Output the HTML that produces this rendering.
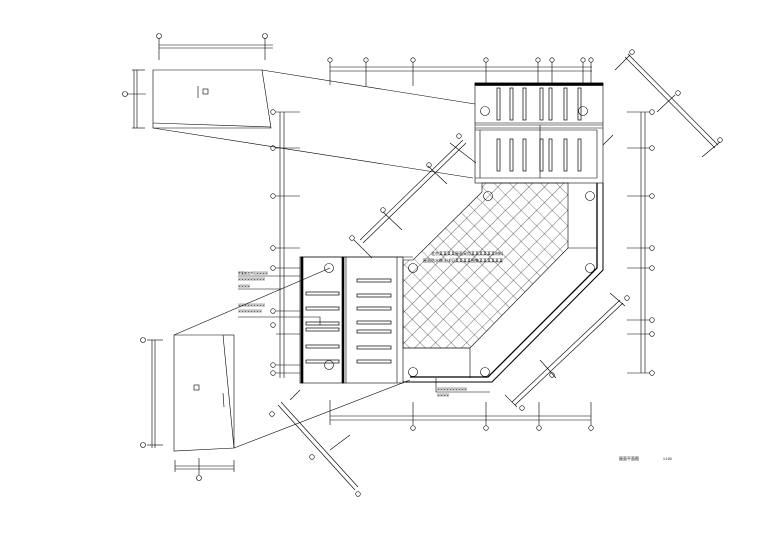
<!DOCTYPE html>
<html><head><meta charset="utf-8"><style>
html,body{margin:0;padding:0;background:#fff;}
svg{display:block;}
text{font-family:"Liberation Sans","Noto Sans CJK SC",sans-serif;fill:#000;}
</style></head><body>
<svg width="780" height="554" viewBox="0 0 780 554" xmlns="http://www.w3.org/2000/svg">
<defs>
<pattern id="h" width="11" height="11" patternUnits="userSpaceOnUse" patternTransform="rotate(45)">
<path d="M0 0H11M0 0V11" stroke="#000" stroke-width="0.6" fill="none"/>
</pattern>
</defs>
<g stroke="#000" stroke-width="0.6" fill="none">
<!-- top detail box -->
<path d="M153 70H262L271 128H153Z"/>
<line x1="153" y1="123" x2="271" y2="127"/>
<line x1="262" y1="70" x2="475" y2="104"/>
<line x1="153" y1="128" x2="473" y2="178"/>
<rect x="203" y="89" width="5" height="5"/>
<line x1="198" y1="86" x2="198" y2="98"/>
<line x1="159" y1="45" x2="273" y2="45"/><line x1="159" y1="48" x2="273" y2="48"/>
<line x1="159" y1="38" x2="159" y2="60"/><line x1="265" y1="38" x2="265" y2="60"/>
<circle cx="159" cy="36" r="2.5"/><circle cx="265" cy="36" r="2.5"/>
<line x1="134" y1="70" x2="134" y2="128"/><line x1="137" y1="70" x2="137" y2="128"/>
<line x1="132" y1="70" x2="145" y2="70"/><line x1="132" y1="128" x2="145" y2="128"/>
<line x1="127" y1="94" x2="146" y2="94"/><circle cx="125" cy="94" r="2.5"/>
<!-- bottom detail box -->
<path d="M174 335H223L234 448L174 451Z"/>
<line x1="223" y1="335" x2="234" y2="335"/><line x1="234" y1="335" x2="234" y2="448"/>
<line x1="174" y1="335" x2="330" y2="268"/>
<line x1="234" y1="448" x2="410" y2="380"/>
<rect x="194" y="385" width="5" height="5"/>
<line x1="223" y1="393" x2="224" y2="407"/>
<line x1="152" y1="340" x2="152" y2="448"/><line x1="155" y1="340" x2="155" y2="448"/>
<line x1="147" y1="340" x2="163" y2="340"/><line x1="147" y1="445" x2="163" y2="445"/>
<circle cx="143" cy="340" r="2.5"/><circle cx="143" cy="445" r="2.5"/>
<line x1="175" y1="466" x2="234" y2="466"/><line x1="175" y1="469" x2="234" y2="469"/>
<line x1="175" y1="460" x2="175" y2="472"/><line x1="234" y1="460" x2="234" y2="472"/><line x1="199" y1="458" x2="199" y2="475"/>
<circle cx="199" cy="478" r="2.5"/>
<!-- left text leaders -->
<path d="M238 276H300M238 289H282M238 317H320V325"/>
<!-- top dimension -->
<line x1="330" y1="67" x2="592" y2="67"/><line x1="330" y1="71" x2="592" y2="71"/>
<g>
<line x1="330" y1="62" x2="330" y2="85"/><line x1="366" y1="62" x2="366" y2="86"/><line x1="413" y1="62" x2="413" y2="86"/>
<line x1="486" y1="62" x2="486" y2="84"/><line x1="538" y1="62" x2="538" y2="84"/><line x1="552" y1="62" x2="552" y2="84"/>
<line x1="583" y1="62" x2="583" y2="84"/><line x1="591" y1="62" x2="591" y2="84"/>
<circle cx="330" cy="60" r="2.2"/><circle cx="366" cy="60" r="2.2"/><circle cx="413" cy="60" r="2.2"/><circle cx="486" cy="60" r="2.2"/>
<circle cx="538" cy="60" r="2.2"/><circle cx="552" cy="60" r="2.2"/><circle cx="583" cy="60" r="2.2"/><circle cx="591" cy="60" r="2.2"/>
</g>
<!-- left axis -->
<line x1="280" y1="112" x2="280" y2="378"/><line x1="284" y1="112" x2="284" y2="378"/>
<path d="M276 112H300M276 148H300M276 196H300M276 248H300M276 268H300M276 311H300M276 334H300M276 365H300M276 373H300"/>
<circle cx="273" cy="112" r="2.3"/><circle cx="273" cy="148" r="2.3"/><circle cx="273" cy="196" r="2.3"/><circle cx="273" cy="248" r="2.3"/><circle cx="273" cy="268" r="2.3"/><circle cx="273" cy="311" r="2.3"/><circle cx="273" cy="325" r="2.3"/><circle cx="273" cy="365" r="2.3"/><circle cx="273" cy="373" r="2.3"/>
<!-- right axis -->
<line x1="641" y1="112" x2="641" y2="373"/><line x1="645" y1="112" x2="645" y2="373"/>
<path d="M627 112H650M627 148H650M627 196H650M627 248H650M627 268H650M627 320H650M627 334H650M627 373H650"/>
<circle cx="652" cy="112" r="2.3"/><circle cx="652" cy="148" r="2.3"/><circle cx="652" cy="196" r="2.3"/><circle cx="652" cy="248" r="2.3"/><circle cx="652" cy="268" r="2.3"/><circle cx="652" cy="320" r="2.3"/><circle cx="652" cy="334" r="2.3"/><circle cx="652" cy="373" r="2.3"/>
<!-- bottom dimension -->
<line x1="330" y1="416" x2="591" y2="416"/><line x1="330" y1="420" x2="591" y2="420"/>
<path d="M330 400V425M413 402V425M486 402V425M539 402V425M591 402V425"/>
<circle cx="413" cy="428" r="2.3"/><circle cx="486" cy="428" r="2.3"/><circle cx="539" cy="428" r="2.3"/><circle cx="591" cy="428" r="2.3"/>
<!-- diagonal dims -->
<line x1="625" y1="57" x2="715" y2="148"/><line x1="628" y1="54" x2="718" y2="145"/>
<line x1="615" y1="70" x2="630" y2="55"/><line x1="702" y1="157" x2="720" y2="142"/><line x1="657" y1="112" x2="675" y2="95"/>
<circle cx="632" cy="52" r="2.3"/><circle cx="678" cy="93" r="2.3"/><circle cx="720" cy="140" r="2.3"/>
<line x1="360" y1="240" x2="463" y2="140"/><line x1="363" y1="243" x2="466" y2="143"/>
<path d="M354 240L372 258M383 212L402 230M428 166L447 184M450 143L476 163"/>
<circle cx="352" cy="238" r="2.3"/><circle cx="383" cy="210" r="2.3"/><circle cx="429" cy="165" r="2.3"/><circle cx="459" cy="136" r="2.3"/>
<line x1="512" y1="402" x2="620" y2="300"/><line x1="515" y1="405" x2="623" y2="303"/>
<path d="M505 395L517 407M610 293L625 306M540 360L556 378"/>
<circle cx="522" cy="408" r="2.3"/><circle cx="552" cy="375" r="2.3"/><circle cx="627" cy="298" r="2.3"/>
<line x1="278" y1="405" x2="355" y2="490"/><line x1="281" y1="402" x2="358" y2="487"/>
<path d="M290 400L300 390M330 450L350 435"/>
<circle cx="272" cy="414" r="2.3"/><circle cx="312" cy="457" r="2.3"/><circle cx="358" cy="494" r="2.3"/>
<!-- top building block -->
<rect x="475" y="83" width="128" height="100"/>
<rect x="475" y="83" width="128" height="2.5" fill="#000"/>
<line x1="475" y1="123" x2="603" y2="123"/><line x1="475" y1="125" x2="603" y2="125"/><line x1="475" y1="128" x2="603" y2="128"/><line x1="475" y1="130" x2="597" y2="130"/>
<line x1="480" y1="130" x2="480" y2="178"/><line x1="597" y1="130" x2="597" y2="178"/>
<line x1="540" y1="125" x2="540" y2="178"/><line x1="475" y1="178" x2="597" y2="178"/>
<g stroke-width="0.7">
<rect x="497" y="88" width="3" height="32"/><rect x="510" y="88" width="3" height="32"/><rect x="523" y="88" width="3" height="32"/><rect x="540" y="88" width="3" height="32"/><rect x="549" y="88" width="3" height="32"/><rect x="564" y="88" width="3" height="32"/><rect x="578" y="88" width="3" height="32"/>
<rect x="497" y="139" width="3" height="32"/><rect x="510" y="139" width="3" height="32"/><rect x="523" y="139" width="3" height="32"/><rect x="540" y="139" width="3" height="32"/><rect x="549" y="139" width="3" height="32"/><rect x="564" y="139" width="3" height="32"/><rect x="578" y="139" width="3" height="32"/>
</g>
<circle cx="485" cy="111" r="4.5"/><circle cx="583" cy="111" r="4.5"/>
<!-- main hatched area -->
<path d="M482 183H568V248L470 348H403V260H413L482 192Z" fill="url(#h)"/>
<!-- outer boundary -->
<path d="M603 183V270L492 382H403" stroke-width="1"/>
<path d="M597 183V268L488 377H410" stroke-width="1.3"/>
<line x1="568" y1="248" x2="597" y2="248"/>
<line x1="470" y1="348" x2="470" y2="378"/>
<line x1="403" y1="348" x2="470" y2="348"/>
<circle cx="488" cy="196" r="4.5"/><circle cx="590" cy="196" r="4.5"/><circle cx="590" cy="268" r="4.5"/><circle cx="485" cy="372" r="4.5"/><circle cx="413" cy="268" r="4.5"/><circle cx="413" cy="372" r="4.5"/>
<!-- left building block -->
<rect x="300" y="257" width="103" height="126"/>
<rect x="301" y="257" width="2" height="126" fill="#000"/>
<rect x="342" y="257" width="2" height="126" fill="#000"/>
<line x1="346" y1="257" x2="346" y2="383"/><line x1="397" y1="257" x2="397" y2="383"/>
<line x1="300" y1="257" x2="413" y2="257"/>
<g stroke-width="0.7">
<rect x="306" y="292" width="33" height="3"/><rect x="306" y="307" width="33" height="3"/><rect x="306" y="322" width="33" height="3"/><rect x="306" y="328" width="33" height="3"/><rect x="306" y="345" width="33" height="3"/><rect x="306" y="360" width="33" height="3"/>
<rect x="357" y="279" width="34" height="3"/><rect x="357" y="294" width="34" height="3"/><rect x="357" y="307" width="34" height="3"/><rect x="357" y="321" width="34" height="3"/><rect x="357" y="330" width="34" height="3"/><rect x="357" y="346" width="34" height="3"/><rect x="357" y="360" width="34" height="3"/>
</g>
<circle cx="329" cy="268" r="4.5"/><circle cx="329" cy="365" r="4.5"/>
<path d="M436 378V392H490M613 135L603 145"/>
</g>
<g font-size="4">
<text x="431" y="255">北京某某某某屋面采用某某某某某某材料</text>
<text x="423" y="262">屋面防水做法详见某某某某图集某某某某某某</text>
<text x="238" y="274" font-size="3">屋面做法详见某某某某</text>
<text x="238" y="280" font-size="3">某某某某某某某某某</text>
<text x="238" y="287" font-size="3">某某某某</text>
<text x="238" y="306" font-size="3">某某某某某某某某某</text>
<text x="238" y="312" font-size="3">某某某某某某某某</text>
<text x="437" y="390" font-size="3">某某某某某某某某某某</text>
<text x="437" y="396" font-size="3">某某某某</text>
<text x="619" y="460" font-size="4">屋面平面图</text>
<text x="663" y="460" font-size="3.5">1:100</text>
</g>
</svg>
</body></html>
